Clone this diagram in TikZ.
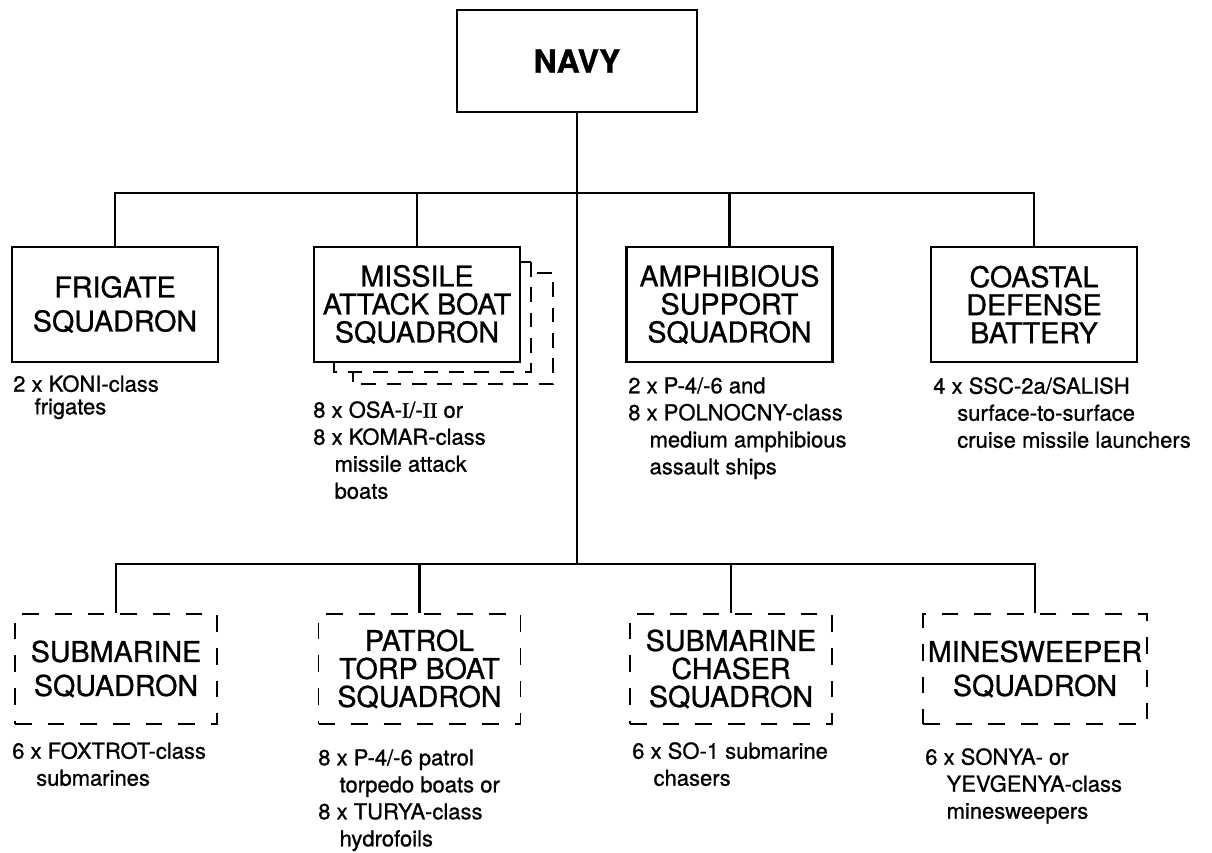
\documentclass[tikz,border=0pt]{standalone}
\usepackage{fontspec}
\setmainfont{TeX Gyre Heros}[FakeBold=0.9]
\newfontfamily\romanum{Liberation Serif}[FakeBold=1.5]
\begin{document}
\begin{tikzpicture}[x=0.75pt,y=-0.75pt,
  solidbox/.style={draw, line width=2.2pt, minimum width=154.5pt, minimum height=86.25pt, align=center, inner sep=0pt, font=\fontsize{21.5}{25.5}\selectfont},
  dashbox/.style={draw, line width=0.8pt, dash pattern=on 12.5pt off 12pt, minimum width=151.5pt, minimum height=82.5pt, align=center, inner sep=0pt, font=\fontsize{21.5}{25.5}\selectfont},
  three/.style={font=\fontsize{21.5}{21}\selectfont},
  conn/.style={line width=1.8pt},
  desc/.style={anchor=north west, align=left, inner sep=0pt, font=\fontsize{16.5}{20.25}\selectfont},
  shad/.style={line width=0.8pt, dash pattern=on 11pt off 8pt}]
\useasboundingbox (0,0) rectangle (1212,852);

% top
\node[draw, line width=2.2pt, minimum width=180pt, minimum height=76.5pt, inner sep=0pt, font=\fontsize{24}{28}\selectfont\bfseries] (navy) at (577,61) {NAVY};

\node[solidbox] (frig) at (115,304.5) {FRIGATE\\SQUADRON};
\node[solidbox, three] (miss) at (417,304.5) {MISSILE\\ATTACK BOAT\\SQUADRON};
\node[solidbox, three] (amph) at (729.5,304.5) {AMPHIBIOUS\\SUPPORT\\SQUADRON};
\node[solidbox, three] (coast) at (1034,304.5) {COASTAL\\DEFENSE\\BATTERY};

% shadow outlines behind missile box
\draw[line width=0.8pt] (520,262) -- (531,262);
\draw[shad] (531,262) -- (531,372) -- (334,372) -- (334,362);
\draw[shad] (537,273) -- (553,273) -- (553,384) -- (353,384) -- (353,373);

% bottom
\node[dashbox] (sub) at (116,669) {SUBMARINE\\SQUADRON};
\node[dashbox, three] (pat) at (419.5,669) {PATROL\\TORP BOAT\\SQUADRON};
\node[dashbox, three] (chas) at (731,669) {SUBMARINE\\CHASER\\SQUADRON};
\node[dashbox, minimum width=168pt] (mine) at (1035,669) {MINESWEEPER\\SQUADRON};

% connectors
\coordinate (tb) at (577,193);
\coordinate (bb) at (577,564);
\draw[conn] (navy.south) -- (bb);
\draw[conn] (frig.north) |- (tb) -| (coast.north);
\draw[conn] (miss.north) -- (miss.north |- tb);
\draw[conn] (amph.north) -- (amph.north |- tb);
\draw[conn] (sub.north) |- (bb) -| (mine.north);
\draw[conn] (pat.north) -- (pat.north |- bb);
\draw[conn] (chas.north) -- (chas.north |- bb);

% descriptions
\node[desc, font=\fontsize{16.5}{17}\selectfont] (frigT) at (13,375) {2 x KONI-class\\\hspace*{16pt}frigates};
\node[desc] (missT) at (313,401) {8 x OSA-{\romanum I}/-{\romanum II} or\\8 x KOMAR-class\\\hspace*{16pt}missile attack\\\hspace*{16pt}boats};
\node[desc] (amphT) at (628,377) {2 x P-4/-6 and\\8 x POLNOCNY-class\\\hspace*{16pt}medium amphibious\\\hspace*{16pt}assault ships};
\node[desc] (coastT) at (933,377) {4 x SSC-2a/SALISH\\\hspace*{18pt}surface-to-surface\\\hspace*{18pt}cruise missile launchers};
\node[desc] (subT) at (12,742) {6 x FOXTROT-class\\\hspace*{18pt}submarines};
\node[desc] (patT) at (318,749) {8 x P-4/-6 patrol\\\hspace*{16pt}torpedo boats or\\8 x TURYA-class\\\hspace*{16pt}hydrofoils};
\node[desc] (chasT) at (632,742) {6 x SO-1 submarine\\\hspace*{16pt}chasers};
\node[desc] (mineT) at (925,748) {6 x SONYA- or\\\hspace*{16pt}YEVGENYA-class\\\hspace*{16pt}minesweepers};
\end{tikzpicture}
\end{document}
